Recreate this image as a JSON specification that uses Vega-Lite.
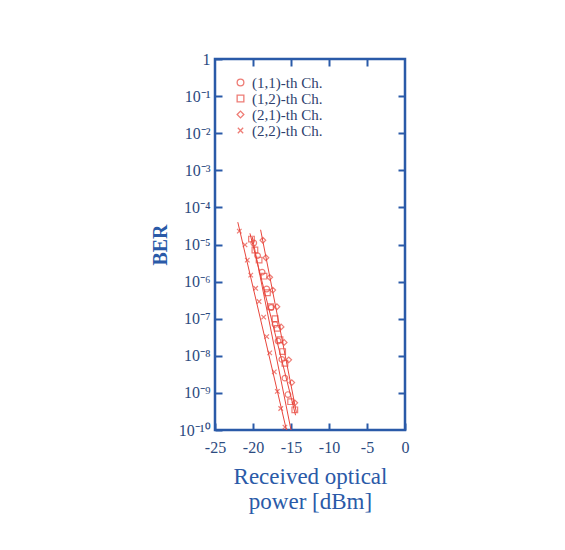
{
  "$schema": "https://vega.github.io/schema/vega-lite/v6.json",
  "width": 190,
  "height": 371,
  "autosize": {"type": "none"},
  "padding": {"left": 215, "top": 59, "right": 160, "bottom": 120},
  "background": "white",
  "config": {
    "font": "Liberation Serif",
    "view": {"stroke": "#2a5aa8", "strokeWidth": 2.5},
    "axis": {
      "domain": false,
      "grid": false,
      "tickColor": "#2a5aa8",
      "tickWidth": 2,
      "labelFlush": false,
      "labelFont": "Liberation Serif",
      "labelFontSize": 16,
      "labelColor": "#2b4a80",
      "titleFont": "Liberation Serif",
      "titleColor": "#2a5aa8",
      "titleFontWeight": "normal"
    }
  },
  "datasets": {
    "pts": [
      {"series": "(2,2)-th Ch.", "power": -21.8, "ber": 2.3e-5},
      {"series": "(2,2)-th Ch.", "power": -21.05, "ber": 9.8e-6},
      {"series": "(2,2)-th Ch.", "power": -20.75, "ber": 3.8e-6},
      {"series": "(2,2)-th Ch.", "power": -20.3, "ber": 1.5e-6},
      {"series": "(2,2)-th Ch.", "power": -19.65, "ber": 6.6e-7},
      {"series": "(2,2)-th Ch.", "power": -19.2, "ber": 2.9e-7},
      {"series": "(2,2)-th Ch.", "power": -18.6, "ber": 1.1e-7},
      {"series": "(2,2)-th Ch.", "power": -18.2, "ber": 3.3e-8},
      {"series": "(2,2)-th Ch.", "power": -17.8, "ber": 1.2e-8},
      {"series": "(2,2)-th Ch.", "power": -17.2, "ber": 3.7e-9},
      {"series": "(2,2)-th Ch.", "power": -16.8, "ber": 1.1e-9},
      {"series": "(2,2)-th Ch.", "power": -16.35, "ber": 3.8e-10},
      {"series": "(2,2)-th Ch.", "power": -15.8, "ber": 1.2e-10},
      {"series": "(1,2)-th Ch.", "power": -20.2, "ber": 1.4e-5},
      {"series": "(1,2)-th Ch.", "power": -19.75, "ber": 7.1e-6},
      {"series": "(1,2)-th Ch.", "power": -19.2, "ber": 3.8e-6},
      {"series": "(1,2)-th Ch.", "power": -18.55, "ber": 1.4e-6},
      {"series": "(1,2)-th Ch.", "power": -18.1, "ber": 5.0e-7},
      {"series": "(1,2)-th Ch.", "power": -17.7, "ber": 2.1e-7},
      {"series": "(1,2)-th Ch.", "power": -17.1, "ber": 1.0e-7},
      {"series": "(1,2)-th Ch.", "power": -16.8, "ber": 5.5e-8},
      {"series": "(1,2)-th Ch.", "power": -16.45, "ber": 2.7e-8},
      {"series": "(1,2)-th Ch.", "power": -16.1, "ber": 1.3e-8},
      {"series": "(1,2)-th Ch.", "power": -15.8, "ber": 6.3e-9},
      {"series": "(1,2)-th Ch.", "power": -15.05, "ber": 5.8e-10},
      {"series": "(1,2)-th Ch.", "power": -14.5, "ber": 3.5e-10},
      {"series": "(1,1)-th Ch.", "power": -19.9, "ber": 1.1e-5},
      {"series": "(1,1)-th Ch.", "power": -19.4, "ber": 5.0e-6},
      {"series": "(1,1)-th Ch.", "power": -18.8, "ber": 1.8e-6},
      {"series": "(1,1)-th Ch.", "power": -18.2, "ber": 6.3e-7},
      {"series": "(1,1)-th Ch.", "power": -17.6, "ber": 2.0e-7},
      {"series": "(1,1)-th Ch.", "power": -17.1, "ber": 7.0e-8},
      {"series": "(1,1)-th Ch.", "power": -16.7, "ber": 2.5e-8},
      {"series": "(1,1)-th Ch.", "power": -16.2, "ber": 8.0e-9},
      {"series": "(1,1)-th Ch.", "power": -15.8, "ber": 2.5e-9},
      {"series": "(1,1)-th Ch.", "power": -15.4, "ber": 9.0e-10},
      {"series": "(2,1)-th Ch.", "power": -18.7, "ber": 1.3e-5},
      {"series": "(2,1)-th Ch.", "power": -18.3, "ber": 4.4e-6},
      {"series": "(2,1)-th Ch.", "power": -17.8, "ber": 1.3e-6},
      {"series": "(2,1)-th Ch.", "power": -17.4, "ber": 5.9e-7},
      {"series": "(2,1)-th Ch.", "power": -16.85, "ber": 2.1e-7},
      {"series": "(2,1)-th Ch.", "power": -16.3, "ber": 6.0e-8},
      {"series": "(2,1)-th Ch.", "power": -15.9, "ber": 2.3e-8},
      {"series": "(2,1)-th Ch.", "power": -15.3, "ber": 7.8e-9},
      {"series": "(2,1)-th Ch.", "power": -14.9, "ber": 1.9e-9},
      {"series": "(2,1)-th Ch.", "power": -14.5, "ber": 5.4e-10}
    ],
    "fit": [
      {"series": "(2,2)-th Ch.", "power": -22.0, "ber": 4e-5},
      {"series": "(2,2)-th Ch.", "power": -15.6, "ber": 1e-10},
      {"series": "(1,1)-th Ch.", "power": -20.1, "ber": 1.6e-5},
      {"series": "(1,1)-th Ch.", "power": -15.0, "ber": 1e-10},
      {"series": "(1,2)-th Ch.", "power": -20.4, "ber": 2e-5},
      {"series": "(1,2)-th Ch.", "power": -14.4, "ber": 2.5e-10},
      {"series": "(2,1)-th Ch.", "power": -19.0, "ber": 2.5e-5},
      {"series": "(2,1)-th Ch.", "power": -14.3, "ber": 3e-10}
    ]
  },
  "layer": [
    {
      "data": {"name": "fit"},
      "mark": {"type": "line", "color": "#e8463c", "strokeWidth": 1, "clip": true},
      "encoding": {
        "x": {"field": "power", "type": "quantitative", "scale": {"domain": [-25, 0], "nice": false, "zero": false},
          "axis": {"orient": "bottom", "values": [-25, -20, -15, -10, -5, 0], "tickSize": 7, "offset": -7, "labelPadding": 9,
            "labelExpr": "datum.value == 0 ? '0' : '-' + abs(datum.value)",
            "title": ["Received optical", "power [dBm]"], "titleFontSize": 23, "titlePadding": 10, "titleLineHeight": 25}},
        "y": {"field": "ber", "type": "quantitative", "scale": {"type": "log", "domain": [1e-10, 1], "nice": false},
          "axis": {"orient": "left", "values": [1e-10, 1e-9, 1e-8, 1e-7, 1e-6, 1e-5, 1e-4, 1e-3, 1e-2, 1e-1, 1], "tickSize": 7, "offset": -7, "labelPadding": 5,
            "labelExpr": "datum.value >= 0.5 ? '1' : '10' + '⁻' + ['','¹','²','³','⁴','⁵','⁶','⁷','⁸','⁹','¹⁰'][round(-log(datum.value)/LN10)]",
            "title": "BER", "titleFontSize": 20, "titleFontWeight": "bold", "titlePadding": 8}},
        "detail": {"field": "series"}
      }
    },
    {
      "data": {"name": "pts"},
      "mark": {"type": "point", "filled": false, "strokeWidth": 1.2, "size": 32},
      "encoding": {
        "x": {"field": "power", "type": "quantitative", "scale": {"domain": [-25, 0], "nice": false, "zero": false},
          "axis": {"orient": "top", "values": [-20, -15, -10, -5], "tickSize": 7, "offset": -7, "labels": false, "title": null}},
        "y": {"field": "ber", "type": "quantitative", "scale": {"type": "log", "domain": [1e-10, 1], "nice": false},
          "axis": {"orient": "right", "values": [1e-9, 1e-8, 1e-7, 1e-6, 1e-5, 1e-4, 1e-3, 1e-2, 1e-1], "tickSize": 7, "offset": -7, "labels": false, "title": null}},
        "shape": {"field": "series", "type": "nominal",
          "scale": {"domain": ["(1,1)-th Ch.", "(1,2)-th Ch.", "(2,1)-th Ch.", "(2,2)-th Ch."],
            "range": ["circle", "square", "diamond", "M-0.8,-0.8L0.8,0.8M-0.8,0.8L0.8,-0.8"]},
          "legend": {"orient": "none", "legendX": 18, "legendY": 16, "title": null, "labelFont": "Liberation Serif", "labelFontSize": 15, "labelColor": "#2e3f6e", "rowPadding": -1, "symbolSize": 45, "symbolStrokeWidth": 1.3}},
        "color": {"field": "series", "type": "nominal",
          "scale": {"domain": ["(1,1)-th Ch.", "(1,2)-th Ch.", "(2,1)-th Ch.", "(2,2)-th Ch."],
            "range": ["#e8463c", "#e8463c", "#e8463c", "#e8463c"]},
          "legend": {"orient": "none", "legendX": 18, "legendY": 16, "title": null, "labelFont": "Liberation Serif", "labelFontSize": 15, "labelColor": "#2e3f6e", "rowPadding": -1, "symbolSize": 45, "symbolStrokeWidth": 1.3}}
      }
    }
  ],
  "resolve": {"axis": {"x": "independent", "y": "independent"}}
}
